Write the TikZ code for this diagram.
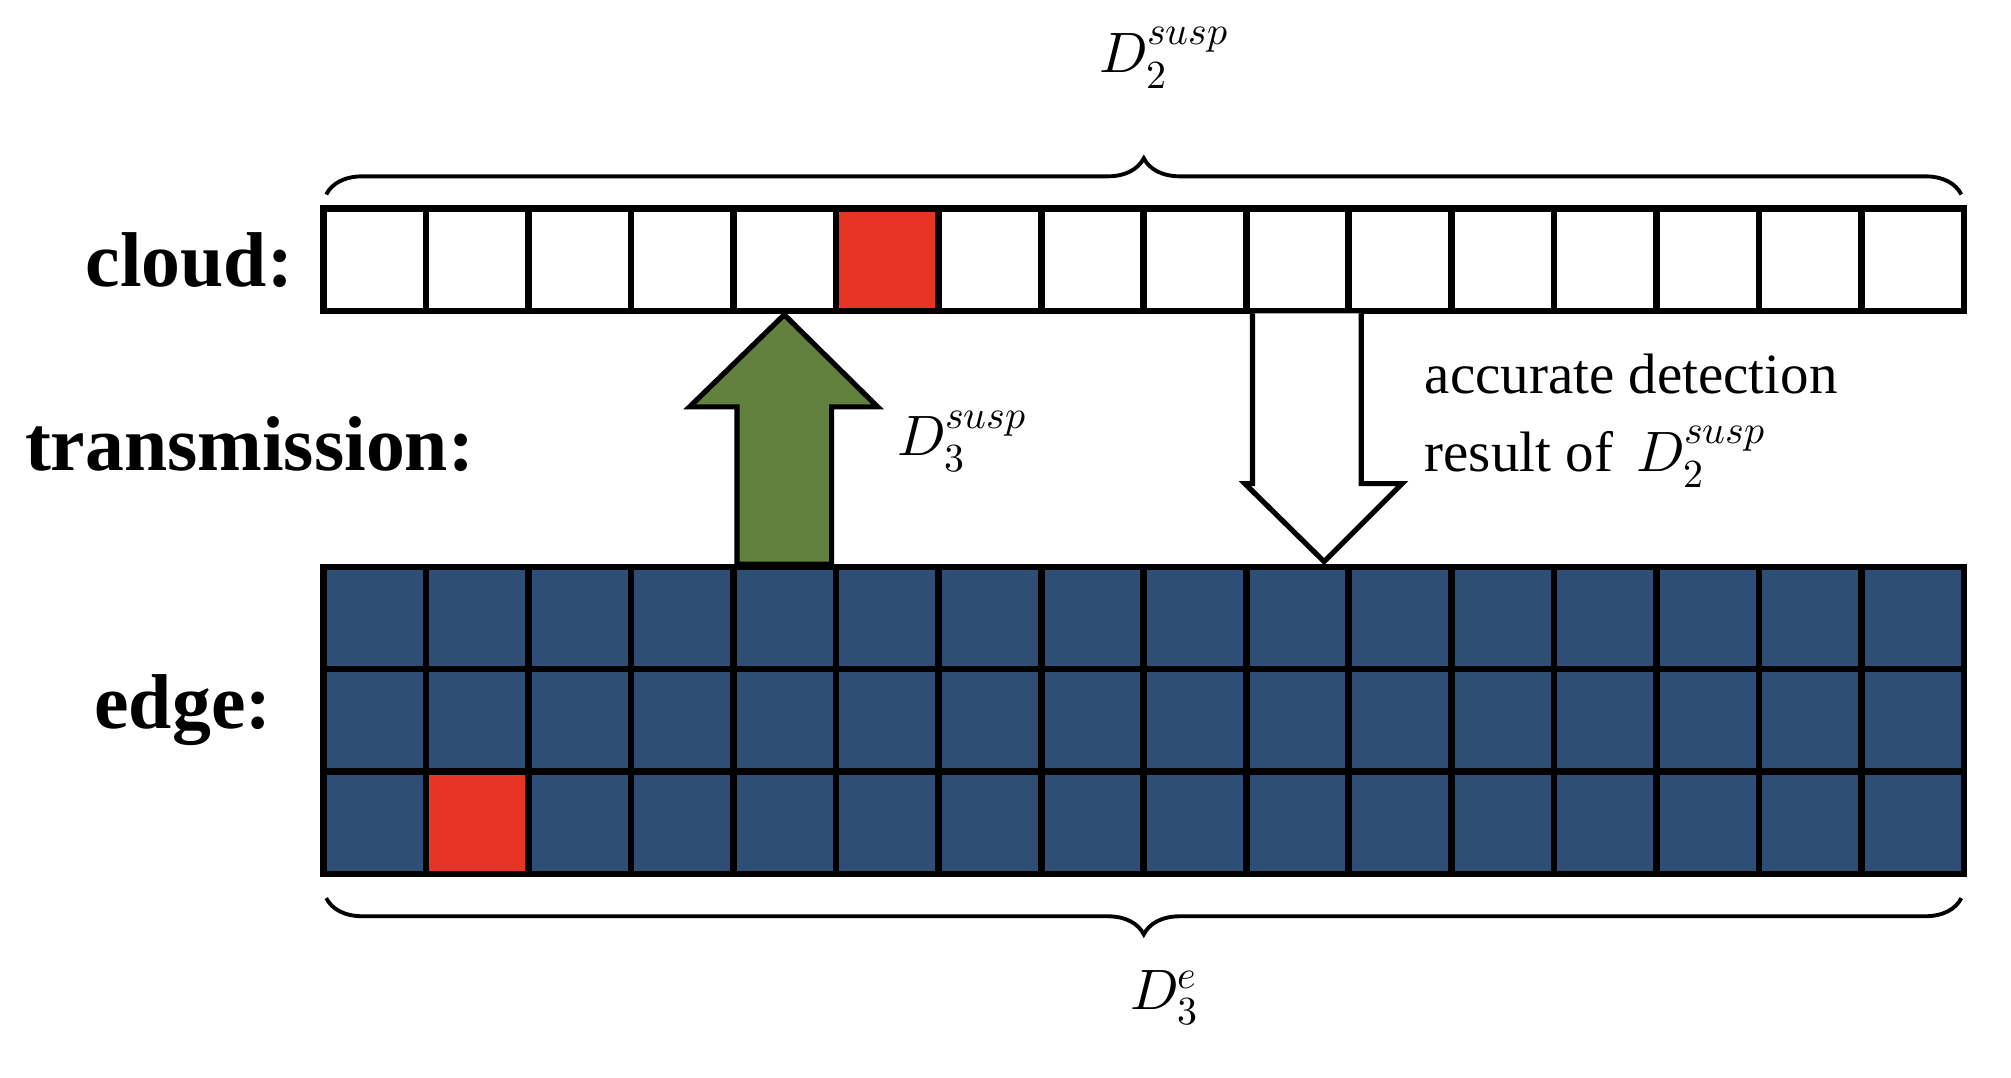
\documentclass[tikz,border=0pt]{standalone}
\usepackage{fontspec}
\usepackage{unicode-math}
\setmainfont{Liberation Serif}
\setmathfont{Latin Modern Math}
\usetikzlibrary{decorations.pathreplacing}
\definecolor{cellblue}{RGB}{46,78,118}
\definecolor{cellred}{RGB}{232,52,36}
\definecolor{agreen}{RGB}{98,129,63}
\begin{document}
\begin{tikzpicture}[x=1pt,y=-1pt,
  cell/.style={draw=black,line width=5pt,minimum width=79.1pt,minimum height=79pt,inner sep=0pt,outer sep=0pt,anchor=north west},
  lab/.style={font=\fontsize{60}{62}\selectfont\bfseries},
  mlab/.style={font=\fontsize{44}{46}\selectfont},
  brc/.style={decorate,decoration={brace,amplitude=28pt},line width=3pt}]
\useasboundingbox (0,0) rectangle (1553,832);
\begin{scope}[scale=0.988]
\foreach \i in {0,...,15}{
  \pgfmathsetmacro{\xx}{253+\i*80.125}
  \ifnum\i=5 \node[cell,fill=cellred] (c\i) at (\xx,163) {};
  \else \node[cell,fill=white] (c\i) at (\xx,163) {};\fi
  \foreach \r in {0,1,2}{
    \pgfmathsetmacro{\yy}{443+\r*80}
    \ifnum\i=1 \ifnum\r=2 \node[cell,fill=cellred] (e\r-\i) at (\xx,\yy) {};
      \else \node[cell,fill=cellblue] (e\r-\i) at (\xx,\yy) {};\fi
    \else \node[cell,fill=cellblue] (e\r-\i) at (\xx,\yy) {};\fi
  }
}
\draw[line width=4pt,fill=agreen,line join=miter] (576,441) -- (576,318) -- (539,318) -- (613,246) -- (686,318) -- (650,318) -- (650,441) -- cycle;
\draw[line width=4pt,fill=white,line join=miter] (979,245) -- (979,378) -- (973,378) -- (1035,439) -- (1096,378) -- (1064,378) -- (1064,245);
\draw[brc] (255,152) -- (1533,152);
\draw[brc] (1533,702) -- (255,702);
\node[lab] (tc) at (148,203) {cloud:};
\node[lab] (tt) at (195,347) {transmission:};
\node[lab] (te) at (143,555) {edge:};
\node[mlab] (d2) at (910,45) {$D_2^{susp}$};
\node[mlab] (d3) at (752,345) {$D_3^{susp}$};
\node[mlab] (d3e) at (910,780) {$D_3^{e}$};
\node[mlab,anchor=west] (t1) at (1110,292) {accurate detection};
\node[mlab,anchor=west] (t2) at (1110,357) {result of\, $D_2^{susp}$};
\end{scope}
\end{tikzpicture}
\end{document}
